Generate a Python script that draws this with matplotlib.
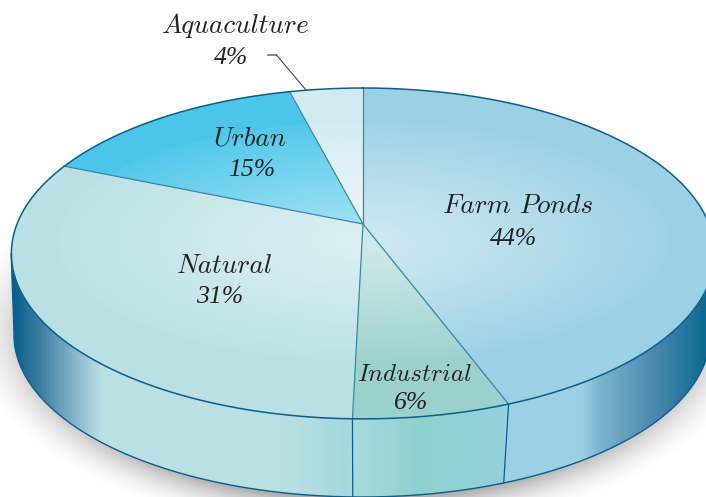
import numpy as np
import matplotlib
matplotlib.use("Agg")
import matplotlib.pyplot as plt
from matplotlib.patches import Polygon
from matplotlib.colors import LinearSegmentedColormap, to_rgb

# ---- data ----
categories = ["Farm\u2004Ponds", "Industrial", "Natural", "Urban", "Aquaculture"]
shares = [44.3, 6.1, 30.9, 14.7, 4.0]   # clockwise from 12 o'clock
percent_labels = ["44%", "6%", "31%", "15%", "4%"]

# ---- style ----
outer_cols = ["#9bd0e5", "#9ad1cd", "#b9e1e4", "#4bc6e9", "#d2ebf3"]
inner_cols = ["#cfe9f3", "#d0eaea", "#dcf0f3", "#a8e4f5", "#eef8fb"]
label_xy = [(518, 206), (415, 375), (224, 266), (250, 139), (235, 26)]
label_size = [19.5, 18.0, 19.5, 19.5, 19.5]
pct_xy = [(514, 239), (411, 403), (220, 297), (252, 170), (231, 58)]
EDGE = "#0a5f8c"
CX = 363.0
K = 0.178
TOP = dict(a=346.0, b=160.2, cy=224.0)

W, H = 706, 497
fig = plt.figure(figsize=(W / 100, H / 100), dpi=100)
ax = fig.add_axes([0, 0, 1, 1])
ax.set_axis_off()


def project(frac, a, b, cy):
    """Map a pie fraction (0-1, clockwise from top) through the tilted-disc perspective."""
    th = 2 * np.pi * np.asarray(frac)
    u, v = np.sin(th), np.cos(th)
    den = 1 + K * v
    return CX + a * u / den, cy - b * v / den


yy, xx = np.mgrid[0:H, 0:W] + 0.5
EXT = (0, W, H, 0)

# soft drop shadow
r = np.sqrt(((xx - 362) / 385) ** 2 + ((yy - 330) / 200) ** 2)
s = np.clip((1.03 - r) / 0.2, 0, 1) ** 1.8
shadow = np.zeros((H, W, 4))
shadow[..., :3] = 0.25
shadow[..., 3] = 0.5 * s
ax.imshow(shadow, extent=EXT, aspect="auto", zorder=1, interpolation="bilinear")

# side wall
cum = np.concatenate([[0], np.cumsum(shares)]) / 100.0
LOW_A, LOW_B, LOW_CX, LOW_CY = 348.0, 162.0, 362.0, 335.0
TOP_E = (352.0, 165.5, 253.5)
t = np.linspace(0, np.pi, 300)
top_x = CX + TOP_E[0] * np.cos(t)
top_y = TOP_E[2] + TOP_E[1] * np.sin(t)
low_x = LOW_CX + LOW_A * np.cos(t)
low_y = LOW_CY + LOW_B * np.sin(t)
wall = Polygon(np.r_[np.c_[top_x, top_y], np.c_[low_x, low_y][::-1]], closed=True,
               fc="none", ec="none", transform=ax.transData)
ax.add_patch(wall)

stops = [(13, "#08608c"), (40, "#3f7fa3"), (70, "#7fb0c8"), (95, "#b0d8e2"), (103, "#bae2e5"),
         (285, "#b9e1e4"), (345, "#a5d8dc"), (352, "#a8dcdc"), (420, "#8ed0cf"),
         (503, "#95d0dc"), (505, "#9bd0e5"), (583, "#9bd0e5"), (600, "#7db5d0"),
         (650, "#4f8db0"), (706, "#0f6a93")]
span = stops[-1][0] - stops[0][0]
cmap = LinearSegmentedColormap.from_list(
    "wall", [((x - stops[0][0]) / span, c) for x, c in stops], N=512)
grad = np.linspace(0, 1, W - 13)[None, :]
im = ax.imshow(grad, extent=(13, W, H, 0), aspect="auto", cmap=cmap, zorder=2, vmin=0, vmax=1)
im.set_clip_path(wall)
# left few pixels in the wall
im2 = ax.imshow(np.zeros((1, 2)), extent=(10, 13.5, H, 0), aspect="auto", cmap=cmap, zorder=2, vmin=0, vmax=1)
im2.set_clip_path(wall)

ax.plot(low_x, low_y, color=EDGE, lw=1.0, zorder=3)
ax.plot([top_x[-1], low_x[-1]], [top_y[-1], low_y[-1]], color=EDGE, lw=0.8, zorder=3)

# seams between slices on the wall
for f in cum[1:3]:
    xt, yt = project(f, **TOP)
    xl = CX + 0.967 * (xt - CX)
    yl = LOW_CY + LOW_B * np.sqrt(np.maximum(0, 1 - ((xl - LOW_CX) / LOW_A) ** 2))
    ax.plot([xt, xl], [yt, yl], color=EDGE, lw=0.9, zorder=3)

# top surface slices with a radial sheen
rad = np.sqrt(((xx - 363) / 305) ** 2 + ((yy - 241) / 119) ** 2)
ramp = np.clip(rad, 0, 1) ** 1.1
for i in range(len(categories)):
    f = np.linspace(cum[i], cum[i + 1], 200)
    px, py = project(f, **TOP)
    verts = np.r_[[[CX, TOP["cy"]]], np.c_[px, py]]
    poly = Polygon(verts, closed=True, fc="none", ec="none")
    ax.add_patch(poly)
    c0, c1 = np.array(to_rgb(inner_cols[i])), np.array(to_rgb(outer_cols[i]))
    img = c0[None, None, :] + (c1 - c0)[None, None, :] * (0.92 * ramp[..., None])
    img = np.where(rad[..., None] >= 1, c1[None, None, :], img)
    im_s = ax.imshow(np.clip(img, 0, 1), extent=EXT, aspect="auto", zorder=4, interpolation="bilinear")
    im_s.set_clip_path(poly)
    ax.plot([CX, px[0]], [TOP["cy"], py[0]], color="#3c87a6", lw=0.9, zorder=5)

# rim of the top ellipse
f = np.linspace(0, 1, 720)
px, py = project(f, **TOP)
ax.plot(px, py, color=EDGE, lw=1.1, zorder=6)

# leader for the small slice
ax.plot([268, 276], [54.5, 54.5], color="#777777", lw=1.2, zorder=6)
ax.plot([276, 306], [54.5, 90], color="#444444", lw=0.8, zorder=6)

# labels
for i, name in enumerate(categories):
    ax.text(*label_xy[i], name, ha="center", va="center", fontsize=label_size[i], color="#222222",
            family=["cmmi10", "Liberation Serif"], style="italic", zorder=7)
    ax.text(*pct_xy[i], percent_labels[i], ha="center", va="center", fontsize=18.5, color="#222222",
            family=["Liberation Serif"], style="italic", zorder=7)

ax.set_xlim(0, W)
ax.set_ylim(H, 0)
fig.savefig("out.png", dpi=100)
